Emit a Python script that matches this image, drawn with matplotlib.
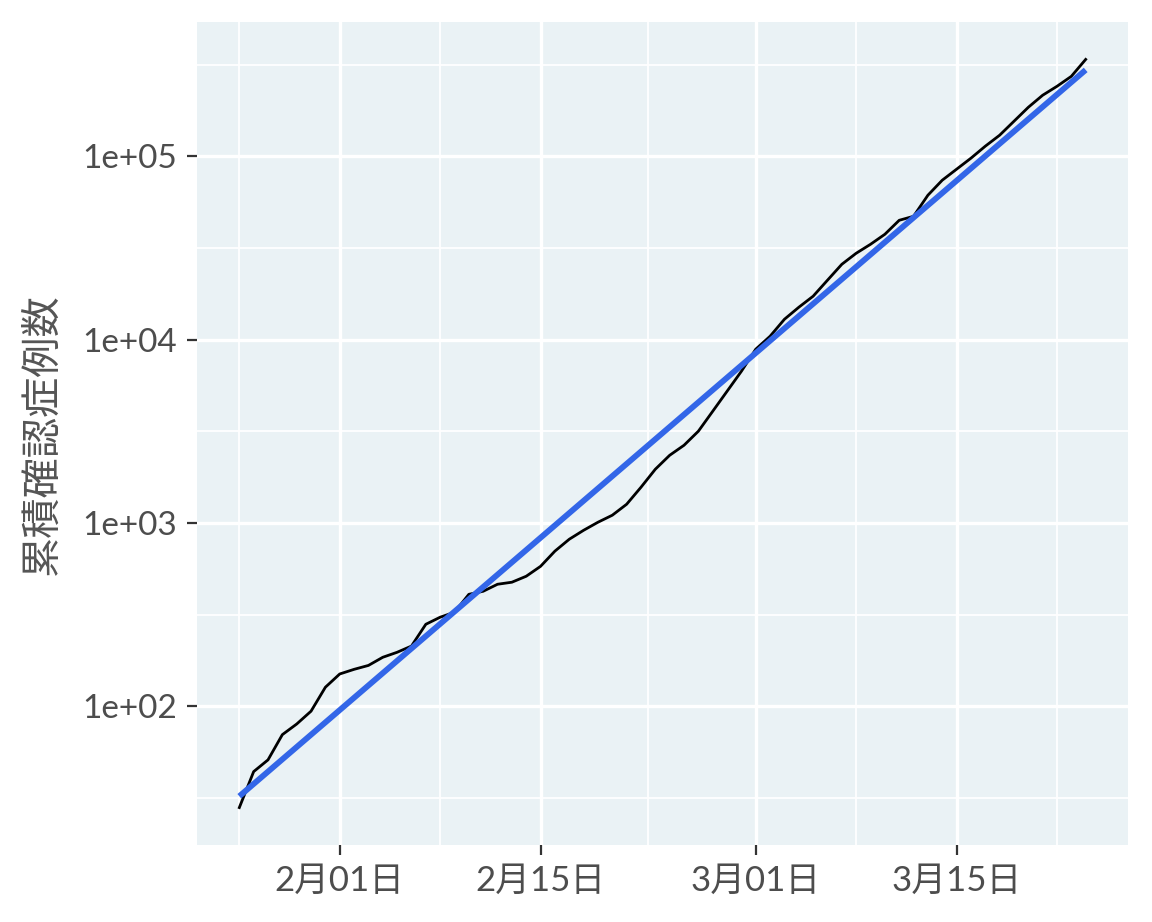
import numpy as np
import pandas as pd
import matplotlib
matplotlib.use("Agg")
import matplotlib.pyplot as plt
import matplotlib.dates as mdates

# cumulative confirmed cases, one value per day from 2020-01-25 to 2020-03-24
start_date = "2020-01-25"
cases = [28, 44, 51, 70, 80, 94, 127,
         150, 159, 167, 185, 197, 213, 280, 306, 326, 408, 424, 463, 475, 512,
         580, 702, 815, 912, 1009, 1102, 1265, 1566, 1964, 2340, 2654, 3166, 4067, 5228, 6723,
         8870, 10440, 12920, 15020, 17260, 21100, 25770, 29600, 33130, 37570, 44790, 47100,
         61370, 74100, 85100, 97700, 113600, 130400, 155400, 185200, 215500, 241100, 273300, 338000]

x_ticks = ["2020-02-01", "2020-02-15", "2020-03-01", "2020-03-15"]
x_tick_labels = ["2月01日", "2月15日", "3月01日", "3月15日"]
y_ticks = [1e2, 1e3, 1e4, 1e5]
y_tick_labels = ["1e+02", "1e+03", "1e+04", "1e+05"]
y_label = "累積確認症例数"

dates = pd.date_range(start_date, periods=len(cases), freq="D")
cases = np.array(cases, dtype=float)

# linear fit on log scale (like geom_smooth(method = "lm"))
day_idx = np.arange(len(cases))
slope, intercept = np.polyfit(day_idx, np.log10(cases), 1)
fit = 10 ** (intercept + slope * day_idx)

fonts = ["Lato", "Noto Sans CJK JP"]
plt.rcParams["font.family"] = fonts

fig = plt.figure(figsize=(11.52, 9.22), dpi=100)
ax = fig.add_axes([197 / 1152, 1 - 845 / 922, 931 / 1152, 823 / 922])
ax.set_facecolor("#EAF2F5")

ax.plot(dates, cases, color="black", lw=2.0, zorder=3, solid_joinstyle="round")
ax.plot(dates, fit, color="#3366E8", lw=4.2, zorder=4, solid_capstyle="butt")

ax.set_yscale("log")
ax.margins(x=0.05, y=0.05)

# major / minor grid like ggplot
x_major = mdates.date2num(pd.to_datetime(x_ticks))
x_minor = np.concatenate([[x_major[0] - 7], (x_major[:-1] + x_major[1:]) / 2, [x_major[-1] + 7]])
ax.set_xticks(x_major)
ax.set_xticklabels(x_tick_labels)
ax.set_xticks(x_minor, minor=True)
ax.set_yticks(y_ticks)
ax.set_yticklabels(y_tick_labels)
ax.set_yticks([10 ** 1.5, 10 ** 2.5, 10 ** 3.5, 10 ** 4.5, 10 ** 5.5], minor=True)
ax.yaxis.set_minor_formatter(plt.NullFormatter())

ax.grid(which="major", color="white", lw=2.4, zorder=0)
ax.grid(which="minor", color="white", lw=1.3, zorder=0)
ax.set_axisbelow(True)

for s in ax.spines.values():
    s.set_visible(False)

ax.tick_params(which="major", length=7, width=1.6, color="#333333",
               labelsize=24, labelcolor="#4D4D4D", pad=7)
ax.tick_params(axis="x", which="major", labelsize=25)
ax.tick_params(which="minor", length=0)

fig.text(42 / 1152, 1 - 434 / 922, y_label, rotation=90, ha="center", va="center",
         fontsize=29, color="#555555", family=["Noto Sans CJK JP"])

fig.savefig("out.png", dpi=100, facecolor="white")
